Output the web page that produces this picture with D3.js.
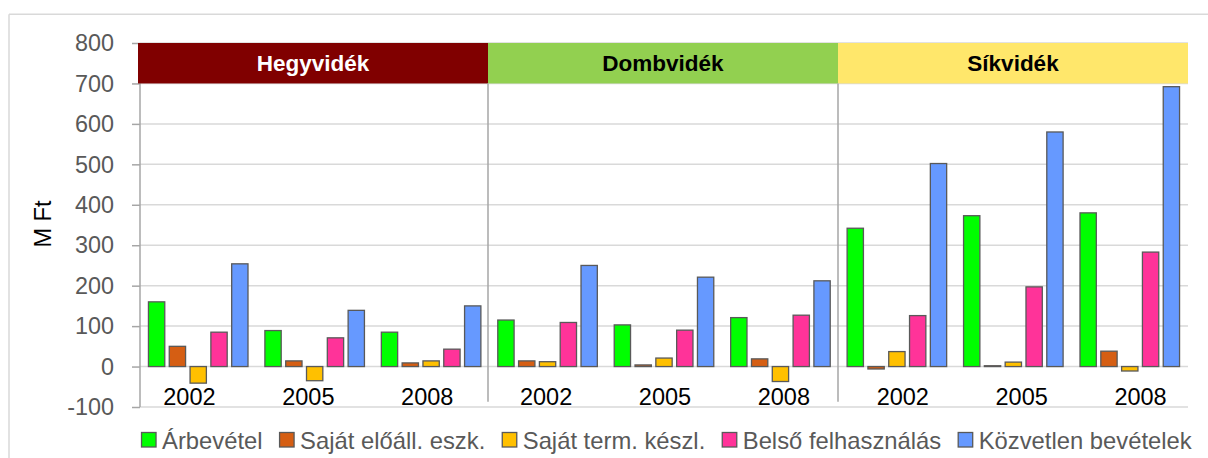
<!DOCTYPE html>
<html>
<head>
<meta charset="utf-8">
<script src="https://cdn.jsdelivr.net/npm/d3@7"></script>
<style>
  html, body { margin: 0; padding: 0; background: #ffffff; }
  svg { display: block; font-family: "Liberation Sans", Arial, sans-serif; }
</style>
</head>
<body>
<svg id="chart" width="1208" height="458"></svg>
<script>
// ---- data ----
const regions = ["Hegyvidék", "Dombvidék", "Síkvidék"];
const years = ["2002", "2005", "2008"];
const seriesNames = ["Árbevétel", "Saját előáll. eszk.", "Saját term. készl.", "Belső felhasználás", "Közvetlen bevételek"];
// values in order: Hegyvidék 2002,2005,2008 | Dombvidék 2002,2005,2008 | Síkvidék 2002,2005,2008
const arbevetel   = [160, 89, 85, 115, 103, 121, 342, 373, 380];
const sajatEloall = [50, 14, 9, 14, 4, 19, -6, 2, 38];
const sajatTerm   = [-41, -35, 14, 12, 21, -37, 37, 11, -11];
const belso       = [85, 71, 43, 109, 90, 127, 126, 197, 283];
const kozvetlen   = [254, 139, 150, 250, 221, 212, 502, 580, 692];
const yTicks = [-100, 0, 100, 200, 300, 400, 500, 600, 700, 800];
const seriesColors = ["#00FF00", "#D55E13", "#FFC000", "#FF3399", "#6699FF"];
const regionColors = ["#800000", "#92D050", "#FFE76B"];
const regionTextColors = ["#FFFFFF", "#000000", "#000000"];

const seriesValues = [arbevetel, sajatEloall, sajatTerm, belso, kozvetlen];
const categories = [];
regions.forEach(r => years.forEach(y => categories.push(r + "|" + y)));

const svg = d3.select("#chart");
const W = 1208, H = 458;
const plot = { left: 140, right: 1188, top: 43, bottom: 407 };

// outer chart frame (top & left visible)
svg.append("line").attr("x1", 9).attr("x2", W).attr("y1", 14.3).attr("y2", 14.3)
  .attr("stroke", "#d9d9d9").attr("stroke-width", 1.5);
svg.append("line").attr("x1", 9).attr("x2", 9).attr("y1", 14.3).attr("y2", H)
  .attr("stroke", "#d9d9d9").attr("stroke-width", 1.5);

// scales
const y = d3.scaleLinear().domain([-100, 800]).range([plot.bottom, plot.top]);
const x = d3.scaleBand().domain(categories).range([plot.left, plot.right]).padding(0);
const xs = d3.scaleBand().domain(seriesNames).range([0, x.bandwidth()])
  .paddingInner(0.216).paddingOuter(0.406);
const xLabel = d3.scaleBand().domain(categories).range([130, 1200]).padding(0);
const xRegion = d3.scaleBand().domain(regions).range([138, 1188]).padding(0);

// gridlines
svg.append("g").selectAll("line").data(yTicks).join("line")
  .attr("x1", plot.left).attr("x2", plot.right)
  .attr("y1", d => y(d)).attr("y2", d => y(d))
  .attr("stroke", "#d9d9d9").attr("stroke-width", 1.5);

// y axis
const yAxis = d3.axisLeft(y).tickValues(yTicks).tickSize(8).tickPadding(18).tickFormat(d => String(d));
const gy = svg.append("g").attr("transform", `translate(${plot.left},0)`).call(yAxis);
gy.select(".domain").attr("stroke", "#a6a6a6").attr("stroke-width", 1.5)
  .attr("d", `M0,${y(800)}V${y(-100)}`);
gy.selectAll(".tick line").attr("stroke", "#a6a6a6").attr("stroke-width", 1.5);
gy.selectAll(".tick text").attr("fill", "#595959").attr("font-size", 23.4)
  .attr("font-family", "Liberation Sans, Arial, sans-serif").attr("dy", "0.33em");

// region header bands (drawn over the axis line)
const hdr = svg.append("g");
hdr.selectAll("rect").data(regions).join("rect")
  .attr("x", d => xRegion(d)).attr("width", xRegion.bandwidth())
  .attr("y", y(800)).attr("height", y(700) - y(800))
  .attr("fill", (d, i) => regionColors[i]);
hdr.selectAll("text").data(regions).join("text")
  .attr("x", d => xRegion(d) + xRegion.bandwidth() / 2)
  .attr("y", 70.8)
  .attr("text-anchor", "middle")
  .attr("font-weight", "bold")
  .attr("font-size", 22.5)
  .attr("fill", (d, i) => regionTextColors[i])
  .text(d => d);

// region separators
svg.append("g").selectAll("line").data(regions.slice(1)).join("line")
  .attr("x1", d => xRegion(d)).attr("x2", d => xRegion(d))
  .attr("y1", y(700)).attr("y2", 401.7)
  .attr("stroke", "#a6a6a6").attr("stroke-width", 1.5);

// y axis title
svg.append("text")
  .attr("transform", `translate(50.5,224) rotate(-90)`)
  .attr("text-anchor", "middle")
  .attr("font-size", 23.5)
  .attr("fill", "#000000")
  .text("M Ft");

// bars
const barsG = svg.append("g");
seriesNames.forEach((s, si) => {
  barsG.append("g").selectAll("rect").data(seriesValues[si]).join("rect")
    .attr("x", (d, i) => x(categories[i]) + xs(s))
    .attr("width", xs.bandwidth())
    .attr("y", d => y(Math.max(0, d)))
    .attr("height", d => Math.abs(y(d) - y(0)))
    .attr("fill", seriesColors[si])
    .attr("stroke", "#595959").attr("stroke-width", 1.3);
});

// year labels
svg.append("g").selectAll("text").data(categories).join("text")
  .attr("x", d => xLabel(d) + xLabel.bandwidth() / 2)
  .attr("y", 405)
  .attr("text-anchor", "middle")
  .attr("font-size", 23.5)
  .attr("fill", "#000000")
  .text(d => d.split("|")[1]);

// legend
const lg = svg.append("g");
const sq = 14.5, gapSqText = 6, gapItems = 17;
const items = lg.selectAll("g").data(seriesNames).join("g");
items.append("rect")
  .attr("width", sq).attr("height", sq)
  .attr("y", 432.5)
  .attr("fill", (d, i) => seriesColors[i])
  .attr("stroke", "#595959").attr("stroke-width", 1.3);
items.append("text")
  .attr("x", sq + gapSqText).attr("y", 449.3)
  .attr("font-size", 23.8).attr("fill", "#595959")
  .text(d => d);
let cx = 0;
items.each(function () {
  const g = d3.select(this);
  const w = g.select("text").node().getComputedTextLength();
  g.attr("transform", `translate(${cx},0)`);
  cx += sq + gapSqText + w + gapItems;
});
const total = cx - gapItems;
const startX = 1191.7 - total;
lg.attr("transform", `translate(${startX},0)`);
</script>
</body>
</html>
